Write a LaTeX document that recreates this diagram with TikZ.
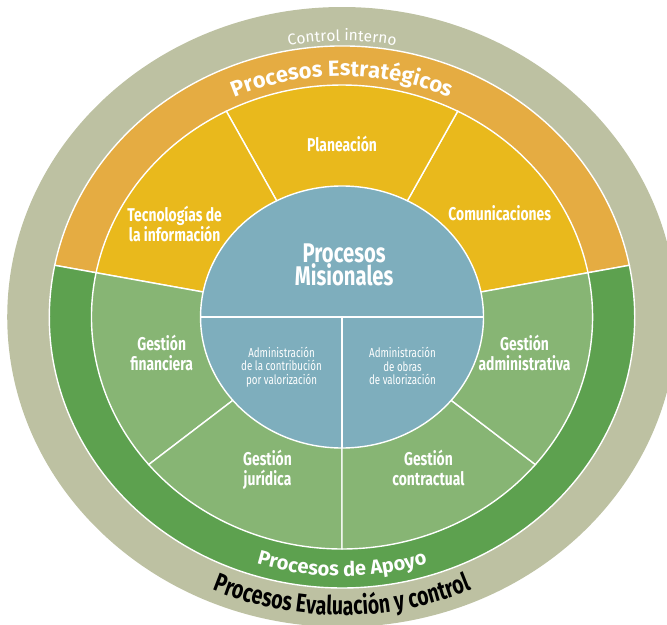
\documentclass[tikz,border=0pt]{standalone}
\usepackage{fontspec}
\setmainfont{Fira Sans}
\newfontfamily\condfont[FakeStretch=0.75]{Fira Sans}
\usetikzlibrary{decorations.text}
\definecolor{ring}{HTML}{BDC1A2}
\definecolor{estrat}{HTML}{E5AC42}
\definecolor{estratin}{HTML}{E9B91C}
\definecolor{apoyo}{HTML}{5DA14F}
\definecolor{apoyoin}{HTML}{87B574}
\definecolor{mision}{HTML}{7EAEBD}

\begin{document}
\begin{tikzpicture}[x=1pt,y=1pt,xscale=1.08,
  slice/.style={draw=white,line width=1.4pt},
  lbl/.style={text=white,align=center,font=\condfont\bfseries\fontsize{18.5}{20}\selectfont},
  small/.style={text=white,align=center,font=\condfont\fontsize{13}{13.5}\selectfont}]
  \useasboundingbox (-316.7,-308) rectangle (300.9,317);

  % Control interno ring
  \fill[ring] (0,0) circle[radius=310];

  % Estrategicos / Apoyo bands
  \filldraw[fill=estrat,slice] (0,0) -- (11:271) arc[start angle=11,end angle=169,radius=271] -- cycle;
  \filldraw[fill=apoyo,slice] (0,0) -- (169:271) arc[start angle=169,end angle=371,radius=271] -- cycle;

  % slices
  \foreach \a/\b in {11/62.5,62.5/117.5,117.5/169}
    \filldraw[fill=estratin,slice] (0,0) -- (\a:232) arc[start angle=\a,end angle=\b,radius=232] -- cycle;
  \foreach \a/\b in {169/219.5,219.5/270,270/320.5,320.5/371}
    \filldraw[fill=apoyoin,slice] (0,0) -- (\a:232) arc[start angle=\a,end angle=\b,radius=232] -- cycle;

  % Misionales
  \filldraw[fill=mision,slice] (0,0) circle[radius=131];
  \draw[slice] (180:131) -- (0:131);
  \draw[slice] (0,0) -- (270:131);

  % curved titles
  \path[decorate,decoration={text along path,text align=center,text color=white,
    text={|\fontsize{15.5}{18}\selectfont|Control interno}}]
    (150:276) arc[start angle=150,end angle=30,radius=276];
  \path[decorate,decoration={text along path,text align=center,text color=white,
    text={|\bfseries\fontsize{22}{26}\selectfont|Procesos Estratégicos}}]
    (160:241) arc[start angle=160,end angle=20,radius=241];
  \path[decorate,decoration={text along path,text align=center,text color=white,
    text={|\bfseries\fontsize{20}{24}\selectfont|Procesos de Apoyo}}]
    (200:259) arc[start angle=200,end angle=340,radius=259];
  \path[decorate,decoration={text along path,text align=center,text color=black,
    text={|\condfont\bfseries\fontsize{26}{30}\selectfont|Procesos Evaluación y control}}]
    (200:298) arc[start angle=200,end angle=340,radius=298];

  % labels
  \node[lbl] (plan) at (0,173) {Planeación};
  \node[lbl] (tic) at (-155,93) {Tecnologías de\\la información};
  \node[lbl] (com) at (146,104) {Comunicaciones};
  \node[text=white,align=center,font=\condfont\bfseries\fontsize{27}{22}\selectfont] (mis) at (2,52) {Procesos\\Misionales};
  \node[lbl] (fin) at (-167,-36) {Gestión\\financiera};
  \node[lbl] (adm) at (169,-36) {Gestión\\administrativa};
  \node[small] (contrib) at (-56,-50) {Administración\\de la contribución\\por valorización};
  \node[small] (obras) at (56,-49) {Administración\\de obras\\de valorización};
  \node[lbl] (jur) at (-69,-153) {Gestión\\jurídica};
  \node[lbl] (contr) at (80,-151) {Gestión\\contractual};
\end{tikzpicture}
\end{document}
